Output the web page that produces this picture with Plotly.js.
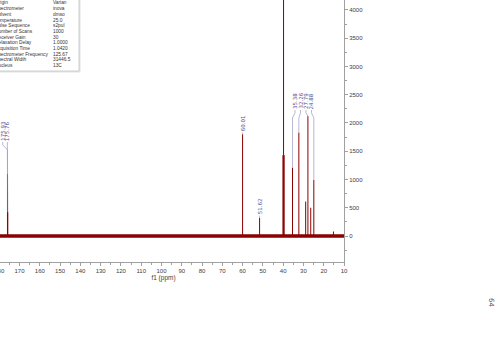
<!DOCTYPE html>
<html><head><meta charset="utf-8">
<script src="https://cdn.plot.ly/plotly-3.0.1.min.js"></script>
<style>html,body{margin:0;padding:0;overflow:hidden;background:#fff;width:496px;height:361px}
#chart{position:absolute;left:-37px;top:0;width:533px;height:361px}</style>
</head><body><div id="chart"></div><script>
// spectrum peaks (ppm, intensity)
const peakPpm    = [175.93, 175.76, 60.01, 51.62, 40.10, 39.80, 39.50, 35.38, 32.26, 28.90, 27.79, 26.40, 24.88, 15.20];
const peakHeight = [1100,   420,    1800,  320,   1430,  9000,  1430,  1210,  1830,  610,   2120,  500,   990,   80];
// baseline
const baseX = [188, 10];
const baseY = [0, 0];
// peak labels
const labelText = ['175.93', '175.76', '60.01', '51.62', '35.38', '32.26', '27.79', '24.88'];
const labelPeak = [175.93, 175.76, 60.01, 51.62, 35.38, 32.26, 27.79, 24.88];
const labelPos  = [178.3, 176.0, 60.01, 51.62, 34.16, 31.45, 28.74, 26.03];
const labelBase = [1663, 1663, 1830, 360, 2229, 2229, 2229, 2229];
// parameter table
const paramNames  = ['Origin', 'Spectrometer', 'Solvent', 'Temperature', 'Pulse Sequence', 'Number of Scans', 'Receiver Gain', 'Relaxation Delay', 'Acquisition Time', 'Spectrometer Frequency', 'Spectral Width', 'Nucleus'];
const paramValues = ['Varian', 'inova', 'dmso', '25.0', 's2pul', '1000', '30', '1.0000', '1.0420', '125.67', '31446.5', '13C'];

const red = '#8b0000';
const px = [], py = [];
peakPpm.forEach((p, i) => { px.push(p, p, null); py.push(0, peakHeight[i], null); });

const lx = [], ly = [];
labelText.forEach((t, i) => {
  const pk = labelPeak[i];
  const idx = peakPpm.indexOf(pk);
  const top = idx >= 0 ? peakHeight[idx] : 0;
  const b = labelBase[i];
  const d2 = Math.max(b - 140, top);
  lx.push(labelPos[i], labelPos[i], pk, pk, null);
  ly.push(b, Math.max(b - 50, top), d2, top, null);
});

// pixel helpers for paper-positioned decorations (plot area: -17..344 x, 0..262 y in window)
const PX = w => (w + 17) / 361;
const PY = h => 1 - h / 262;

const annotations = labelText.map((t, i) => ({
  x: labelPos[i], y: labelBase[i], xref: 'x', yref: 'y', text: t, textangle: -90,
  xanchor: 'center', yanchor: 'bottom', showarrow: false, borderpad: 0,
  font: {family: 'DejaVu Sans', size: 5.5, color: '#50509a'}
}));
paramNames.forEach((n, i) => {
  const yw = 3 + 5.7 * i;
  annotations.push({x: PX(-6), y: PY(yw), xref: 'paper', yref: 'paper', text: n, showarrow: false,
    xanchor: 'left', yanchor: 'middle', borderpad: 0, font: {family: 'Liberation Sans', size: 4.8, color: '#333'}});
  annotations.push({x: PX(52), y: PY(yw), xref: 'paper', yref: 'paper', text: paramValues[i], showarrow: false,
    xanchor: 'left', yanchor: 'middle', borderpad: 0, font: {family: 'Liberation Sans', size: 4.8, color: '#333'}});
});
annotations.push({x: PX(491), y: PY(302), xref: 'paper', yref: 'paper', text: '64', textangle: 90, showarrow: false,
  xanchor: 'center', yanchor: 'middle', font: {family: 'DejaVu Sans', size: 7, color: '#555'}});

const axisCol = '#a0a0a0';
const tickFont = {family: 'Liberation Sans', size: 6, color: '#404040'};
const layout = {
  width: 533, height: 361,
  margin: {l: 20, r: 152, t: 0, b: 99},
  paper_bgcolor: '#fff', plot_bgcolor: '#fff',
  showlegend: false, hovermode: false,
  xaxis: {range: [188, 10], showgrid: false, zeroline: false, showline: true, linecolor: axisCol, linewidth: 1,
    ticks: 'outside', ticklen: 3, tickcolor: axisCol, tick0: 0, dtick: 10,
    minor: {tick0: 0, dtick: 5, ticks: 'outside', ticklen: 2, tickcolor: axisCol, showgrid: false},
    tickfont: tickFont, title: {text: 'f1 (ppm)', font: {family: 'Liberation Sans', size: 6.5, color: '#404040'}, standoff: 1}},
  yaxis: {range: [-460, 4175], side: 'right', showgrid: false, zeroline: false, showline: true, linecolor: axisCol,
    ticks: 'outside', ticklen: 3, tickcolor: axisCol, tick0: 0, dtick: 500,
    minor: {tick0: 0, dtick: 250, ticks: 'outside', ticklen: 2, tickcolor: axisCol, showgrid: false},
    tickfont: tickFont},
  shapes: [
    {type: 'rect', xref: 'paper', yref: 'paper', x0: PX(-40), x1: PX(80.5), y0: PY(72.5), y1: PY(-10),
      line: {width: 0}, fillcolor: '#e4e4e4', layer: 'above'},
    {type: 'rect', xref: 'paper', yref: 'paper', x0: PX(-40), x1: PX(79), y0: PY(71), y1: PY(-10),
      line: {width: 0.8, color: '#c4c4c4'}, fillcolor: '#ffffff', layer: 'above'}
  ],
  annotations: annotations
};
const traces = [
  {x: baseX, y: baseY, mode: 'lines', line: {color: red, width: 3.5}, hoverinfo: 'skip'},
  {x: px, y: py, mode: 'lines', line: {color: red, width: 1}, hoverinfo: 'skip'},
  {x: lx, y: ly, mode: 'lines', line: {color: '#9a9ac4', width: 0.7}, hoverinfo: 'skip'}
];
Plotly.newPlot('chart', traces, layout, {displayModeBar: false, staticPlot: true});
</script></body></html>
